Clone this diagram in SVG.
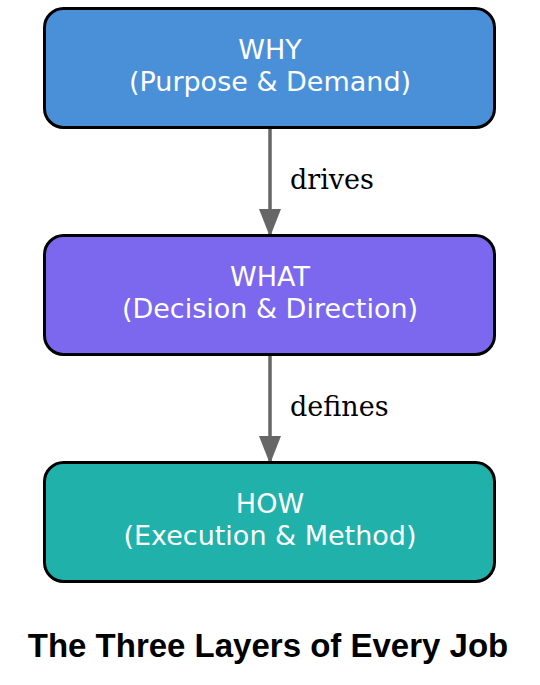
<svg xmlns="http://www.w3.org/2000/svg" width="540" height="685" viewBox="0 0 540 685">
<style>
.box{stroke:#000;stroke-width:3}
.t{font-family:"DejaVu Sans",sans-serif;font-size:27px;fill:#fff;text-anchor:middle}
.el{font-family:"DejaVu Serif",serif;font-size:27px;fill:#000}
.e{stroke:#666;stroke-width:3.5;fill:none}
.title{font-family:"Liberation Sans",Arial,sans-serif;font-size:33px;font-weight:bold;text-anchor:middle}
</style>
<defs>
<marker id="ah" markerUnits="userSpaceOnUse" markerWidth="28" markerHeight="22" refX="28" refY="11" orient="auto" viewBox="0 0 28 22">
<path d="M0,0 L28,11 L0,22 Z" fill="#666"/>
</marker>
</defs>
<rect width="540" height="685" fill="#fff"/>
<g id="connectors">
<path class="e" d="M270,128 V237" marker-end="url(#ah)"/>
<text class="el" x="290" y="189">drives</text>
<path class="e" d="M270,355 V464" marker-end="url(#ah)"/>
<text class="el" x="290" y="416">defines</text>
</g>
<g id="why">
<rect class="box" x="44.5" y="8.5" width="450" height="119" rx="19" fill="#4A90D9"/>
<text class="t" x="270" y="59">WHY</text>
<text class="t" x="270" y="90.5">(Purpose &amp; Demand)</text>
</g>
<g id="what">
<rect class="box" x="44.5" y="235.5" width="450" height="119" rx="19" fill="#7B68EE"/>
<text class="t" x="270" y="286">WHAT</text>
<text class="t" x="270" y="317.5">(Decision &amp; Direction)</text>
</g>
<g id="how">
<rect class="box" x="44.5" y="462.5" width="450" height="119" rx="19" fill="#20B2AA"/>
<text class="t" x="270" y="513">HOW</text>
<text class="t" x="270" y="544.5">(Execution &amp; Method)</text>
</g>
<text class="title" x="268" y="657">The Three Layers of Every Job</text>
</svg>
